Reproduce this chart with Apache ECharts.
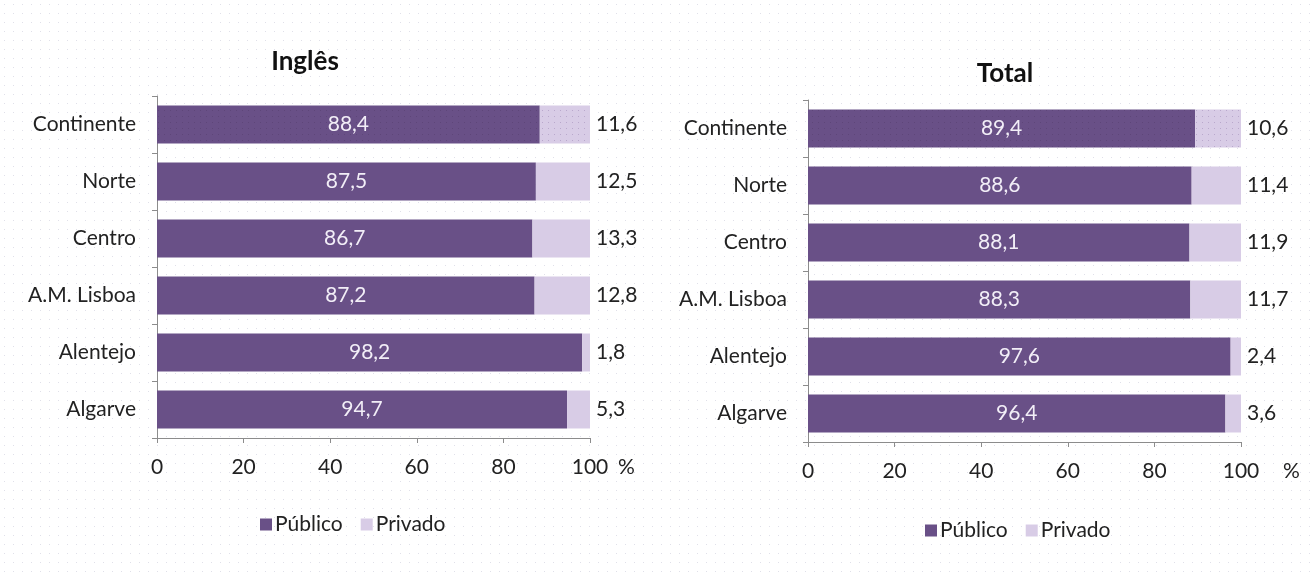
<!DOCTYPE html>
<html>
<head>
<meta charset="utf-8">
<script src="https://cdn.jsdelivr.net/npm/echarts@6/dist/echarts.min.js"></script>
<style>
    html, body { margin: 0; padding: 0; }
    body {
        background-color: #ffffff;
        background-image: radial-gradient(circle, rgba(200, 200, 215, 0.55) 0.8px, transparent 1px);
        background-size: 9px 9px;
    }
    #chart { width: 1312px; height: 577px; }
</style>
</head>
<body>
<div id="chart"></div>
<script>
var categories = ['Continente', 'Norte', 'Centro', 'A.M. Lisboa', 'Alentejo', 'Algarve'];
var inglesPublico = [88.4, 87.5, 86.7, 87.2, 98.2, 94.7];
var inglesPrivado = [11.6, 12.5, 13.3, 12.8, 1.8, 5.3];
var totalPublico = [89.4, 88.6, 88.1, 88.3, 97.6, 96.4];
var totalPrivado = [10.6, 11.4, 11.9, 11.7, 2.4, 3.6];
var xTicks = [0, 20, 40, 60, 80, 100];

var darkPurple = '#695087';
var lightPurple = '#d8cce6';
var fontFamily = 'Lato, "Liberation Sans", sans-serif';
var fs = 21;

// padrão pontilhado da barra "Continente"
function dotPattern(bg, dot) {
    var c = document.createElement('canvas');
    c.width = 6;
    c.height = 6;
    var ctx = c.getContext('2d');
    ctx.fillStyle = bg;
    ctx.fillRect(0, 0, 6, 6);
    ctx.fillStyle = dot;
    ctx.fillRect(2, 2, 1, 1);
    return { image: c, repeat: 'repeat' };
}

function fmt(v) {
    return v.toFixed(1).replace('.', ',');
}

function barData(values, bg, dot) {
    return values.map(function (v, i) {
        if (i === 0) {
            return { value: v, itemStyle: { color: dotPattern(bg, dot) } };
        }
        return v;
    });
}

function xAxisCfg(gridIndex, nameGap) {
    return {
        type: 'value',
        gridIndex: gridIndex,
        min: 0,
        max: 100,
        interval: 20,
        name: '%',
        nameLocation: 'end',
        nameGap: nameGap,
        nameTextStyle: {
            fontSize: fs,
            color: '#222',
            fontFamily: fontFamily,
            verticalAlign: 'top',
            padding: [19, 0, 0, 0]
        },
        axisLine: { show: true, lineStyle: { color: '#8c8c8c' } },
        axisTick: { show: true, length: 5, lineStyle: { color: '#8c8c8c' } },
        splitLine: { show: false },
        axisLabel: {
            fontSize: fs,
            color: '#222',
            fontFamily: fontFamily,
            margin: 19,
            formatter: function (v) { return xTicks.indexOf(v) >= 0 ? String(v) : ''; }
        }
    };
}

function yAxisCfg(gridIndex) {
    return {
        type: 'category',
        gridIndex: gridIndex,
        data: categories,
        inverse: true,
        axisLine: { show: true, lineStyle: { color: '#8c8c8c' } },
        axisTick: { show: true, length: 5, lineStyle: { color: '#8c8c8c' } },
        axisLabel: {
            fontSize: fs,
            color: '#222',
            fontFamily: fontFamily,
            margin: 21
        }
    };
}

function seriesPair(idx, pub, priv) {
    return [
        {
            name: 'Público',
            type: 'bar',
            stack: 's' + idx,
            xAxisIndex: idx,
            yAxisIndex: idx,
            barWidth: 38,
            itemStyle: { color: darkPurple },
            label: {
                show: true,
                position: 'inside',
                color: '#f2eef7',
                fontSize: fs,
                fontFamily: fontFamily,
                formatter: function (p) { return fmt(p.value); }
            },
            data: barData(pub, darkPurple, '#5e4679')
        },
        {
            name: 'Privado',
            type: 'bar',
            stack: 's' + idx,
            xAxisIndex: idx,
            yAxisIndex: idx,
            barWidth: 38,
            itemStyle: { color: lightPurple },
            label: {
                show: true,
                position: 'right',
                distance: 6,
                color: '#222',
                fontSize: fs,
                fontFamily: fontFamily,
                formatter: function (p) { return fmt(p.value); }
            },
            data: barData(priv, lightPurple, '#b9a8cc')
        }
    ];
}

var myChart = echarts.init(document.getElementById('chart'));
var option = {
    animation: false,
    title: [
        {
            text: 'Inglês',
            left: 300,
            top: 44,
            textAlign: 'center',
            textStyle: { fontSize: 26, fontWeight: 'bold', color: '#111', fontFamily: fontFamily }
        },
        {
            text: 'Total',
            left: 1000,
            top: 56,
            textAlign: 'center',
            textStyle: { fontSize: 26, fontWeight: 'bold', color: '#111', fontFamily: fontFamily }
        }
    ],
    legend: [
        {
            data: ['Público', 'Privado'],
            left: 255,
            top: 509,
            icon: 'rect',
            itemWidth: 12,
            itemHeight: 12,
            itemGap: 18,
            textStyle: { fontSize: fs, color: '#222', fontFamily: fontFamily, padding: [0, 0, 0, -2] }
        },
        {
            data: ['Público', 'Privado'],
            left: 920,
            top: 515,
            icon: 'rect',
            itemWidth: 12,
            itemHeight: 12,
            itemGap: 18,
            textStyle: { fontSize: fs, color: '#222', fontFamily: fontFamily, padding: [0, 0, 0, -2] }
        }
    ],
    grid: [
        { left: 157, top: 96, width: 433, height: 342 },
        { left: 808, top: 100, width: 433, height: 342 }
    ],
    xAxis: [xAxisCfg(0, 28), xAxisCfg(1, 42)],
    yAxis: [yAxisCfg(0), yAxisCfg(1)],
    series: seriesPair(0, inglesPublico, inglesPrivado).concat(seriesPair(1, totalPublico, totalPrivado))
};

myChart.setOption(option);

window.addEventListener('resize', function () {
    myChart.resize();
});
</script>
</body>
</html>
